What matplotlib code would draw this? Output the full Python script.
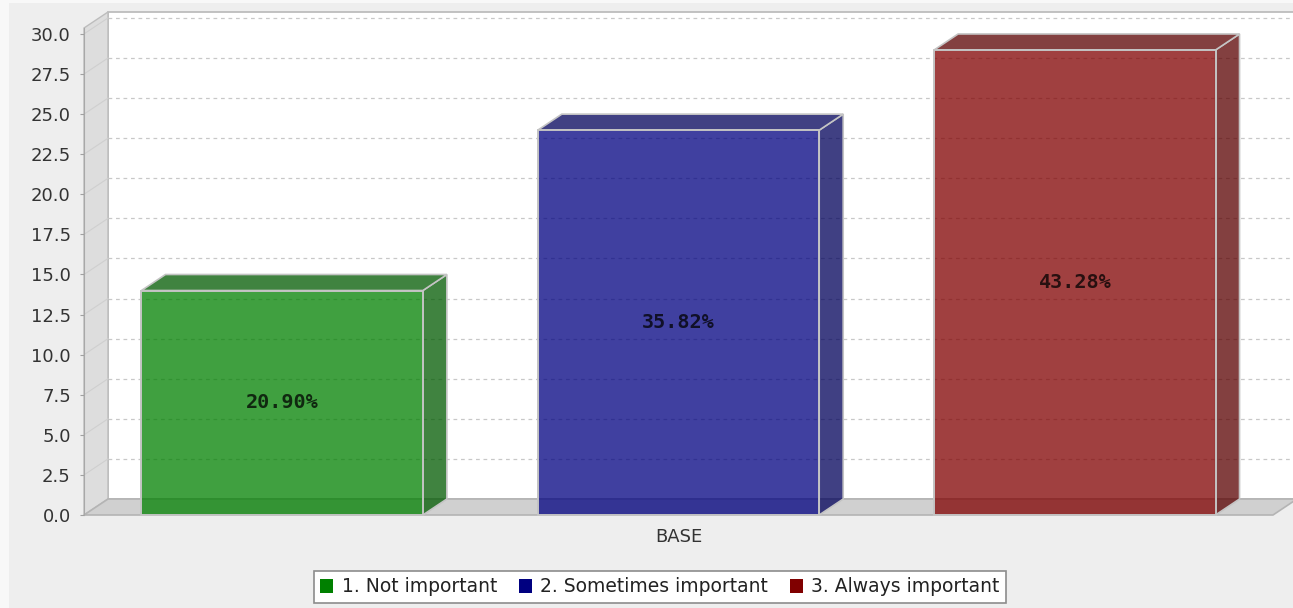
import numpy as np
import matplotlib.pyplot as plt
from matplotlib.colors import to_rgb
from matplotlib.patches import Polygon, Rectangle, Patch
from matplotlib.transforms import IdentityTransform, ScaledTranslation

# data
category = 'BASE'
series_names = ['1. Not important', '2. Sometimes important', '3. Always important']
counts = [14, 24, 29]
pct_labels = ['20.90%', '35.82%', '43.28%']
series_colors = ['#008000', '#000080', '#800000']
y_ticks = np.arange(0, 30.01, 2.5)

DPI = 100
DEPTH_X, DEPTH_Y = 0.24, 0.16   # 3d offset in inches
BAR_W = 0.71
EDGE = '#c4c4c4'

fig = plt.figure(figsize=(12.93, 6.08), dpi=DPI, facecolor='#f8f8f8')
fig.patches.append(Rectangle((9 / 1293, 0), 1, 1 - 3 / 608, transform=fig.transFigure,
                             facecolor='#eeeeee', edgecolor='none', zorder=-10))

ax = fig.add_axes([84 / 1293, 93 / 608, 1189 / 1293, 487 / 608])
ax.set_xlim(-1.5, 1.5)
ax.set_ylim(0, 30.37)
ax.patch.set_visible(False)
for s in ['top', 'right', 'bottom']:
    ax.spines[s].set_visible(False)
ax.spines['left'].set_color('#a8a8a8')
ax.spines['left'].set_zorder(3)

shift = ScaledTranslation(DEPTH_X, DEPTH_Y, fig.dpi_scale_trans)
dpx = np.array([DEPTH_X * DPI, DEPTH_Y * DPI])


def extrude(points, trans):
    # front edge plus the same edge pushed back by the depth offset
    front = trans.transform(points)
    back = front + dpx
    return np.vstack([front, back[::-1]])


# back wall, side wall and floor
ax.add_patch(Rectangle((0, 0), 1, 1, transform=ax.transAxes + shift, facecolor='white',
                       edgecolor='#b8b8b8', lw=1.2, clip_on=False, zorder=0.5))
for y in y_ticks[1:]:
    ax.plot([-1.5, 1.5], [y, y], transform=ax.transData + shift, color='#c8c8c8',
            lw=0.9, dashes=(3, 3), clip_on=False, zorder=0.6)

ax.add_patch(Polygon(extrude([(0, 0), (0, 1)], ax.transAxes), closed=True,
                     transform=IdentityTransform(), facecolor='#dddddd',
                     edgecolor='#bdbdbd', lw=1, clip_on=False, zorder=1))
for y in y_ticks[1:]:
    seg = extrude([(-1.5, y)], ax.transData)
    ax.plot(seg[:, 0], seg[:, 1], transform=IdentityTransform(), color='#cfcfcf',
            lw=0.8, clip_on=False, zorder=1.1)
ax.add_patch(Polygon(extrude([(0, 0), (1, 0)], ax.transAxes), closed=True,
                     transform=IdentityTransform(), facecolor='#d0d0d0',
                     edgecolor='#b4b4b4', lw=1.2, clip_on=False, zorder=1))

# 3d bars
positions = np.arange(len(counts)) - 1
for x, h, col, lab in zip(positions, counts, series_colors, pct_labels):
    face = (*to_rgb(col), 0.75)
    dark = (*[c * 0.7 for c in to_rgb(col)], 0.75)
    side = extrude([(x + BAR_W / 2, 0), (x + BAR_W / 2, h)], ax.transData)
    top = extrude([(x - BAR_W / 2, h), (x + BAR_W / 2, h)], ax.transData)
    for poly in (side, top):
        ax.add_patch(Polygon(poly, closed=True, transform=IdentityTransform(),
                             facecolor=dark, edgecolor=EDGE, lw=1.2,
                             clip_on=False, zorder=4))
    ax.bar(x, h, BAR_W, facecolor=face, edgecolor=EDGE, lw=1.4, zorder=5, clip_on=False)
    ax.text(x, h / 2, lab, ha='center', va='center', family='DejaVu Sans Mono',
            fontweight='bold', fontsize=14.5, color=(0, 0, 0, 0.75), zorder=6)

ax.set_yticks(y_ticks)
ax.set_yticklabels([f'{v:.1f}' for v in y_ticks])
ax.set_xticks([0])
ax.set_xticklabels([category])
ax.tick_params(axis='y', length=3, color='#a0a0a0', pad=6.5, labelsize=13,
               labelcolor='#333333')
ax.tick_params(axis='x', length=0, pad=9, labelsize=13, labelcolor='#333333')

handles = [Patch(facecolor=c, edgecolor='none') for c in series_colors]
leg = fig.legend(handles, series_names, loc='center', ncol=3,
                 bbox_to_anchor=(660 / 1293, 1 - 587 / 608), fontsize=13.5,
                 frameon=True, fancybox=False, framealpha=1, edgecolor='#8c8c8c',
                 handlelength=0.7, handleheight=0.7, handletextpad=0.45,
                 columnspacing=1.15, borderpad=0.35, borderaxespad=0)
leg.get_frame().set_linewidth(1.2)
for t in leg.get_texts():
    t.set_color('#222222')

fig.savefig('out.png', dpi=DPI)
